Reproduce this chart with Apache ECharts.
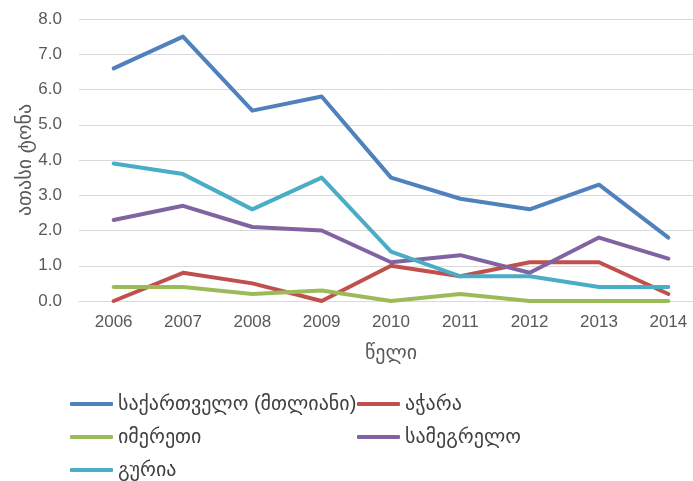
<!DOCTYPE html>
<html><head><meta charset="utf-8">
<script src="https://cdn.jsdelivr.net/npm/echarts@6/dist/echarts.min.js"></script>
<style>html,body{margin:0;padding:0;background:#fff}#c{width:693px;height:481px}</style>
</head><body><div id="c"></div>
<script>
const years = ['2006','2007','2008','2009','2010','2011','2012','2013','2014'];
const names = ['საქართველო (მთლიანი)','აჭარა','იმერეთი','სამეგრელო','გურია'];
const georgia = [6.6, 7.5, 5.4, 5.8, 3.5, 2.9, 2.6, 3.3, 1.8];
const adjara = [0.0, 0.8, 0.5, 0.0, 1.0, 0.7, 1.1, 1.1, 0.2];
const imereti = [0.4, 0.4, 0.2, 0.3, 0.0, 0.2, 0.0, 0.0, 0.0];
const samegrelo = [2.3, 2.7, 2.1, 2.0, 1.1, 1.3, 0.8, 1.8, 1.2];
const guria = [3.9, 3.6, 2.6, 3.5, 1.4, 0.7, 0.7, 0.4, 0.4];
const yTicks = ['0.0','1.0','2.0','3.0','4.0','5.0','6.0','7.0','8.0'];

const colors = ['#4F81BD','#C0504D','#9BBB59','#8064A2','#4BACC6'];
const values = [georgia, adjara, imereti, samegrelo, guria];
const FONT = '"Liberation Sans", Arial, "DejaVu Sans", sans-serif';

const chart = echarts.init(document.getElementById('c'));
const legendCommon = {
  orient: 'vertical', itemWidth: 43, itemHeight: 4, itemGap: 13, icon: 'roundRect',
  textStyle: {fontFamily: FONT, fontSize: 20, lineHeight: 20, color: '#404040'}, padding: 0
};
chart.setOption({
  animation: false,
  backgroundColor: '#fff',
  color: colors,
  grid: {left: 79, top: 19, right: -10, bottom: 180, outerBoundsMode: 'none', containLabel: false},
  legend: [
    Object.assign({}, legendCommon, {left: 70, top: 394, data: [names[0], names[2], names[4]]}),
    Object.assign({}, legendCommon, {left: 357, top: 394, data: [names[1], names[3]]})
  ],
  xAxis: {
    type: 'category', data: years, boundaryGap: true,
    name: 'წელი', nameLocation: 'middle', nameGap: 42,
    nameTextStyle: {fontFamily: FONT, fontSize: 20, color: '#595959'},
    axisLine: {lineStyle: {color: '#D9D9D9'}},
    axisTick: {show: false},
    axisLabel: {fontFamily: FONT, fontSize: 17, color: '#595959', margin: 13}
  },
  yAxis: {
    type: 'value', min: 0, max: 8, interval: 1,
    name: 'ათასი ტონა', nameLocation: 'middle', nameGap: 44, nameRotate: 90,
    nameMoveOverlap: false,
    nameTextStyle: {fontFamily: FONT, fontSize: 20, color: '#595959'},
    axisLine: {show: false}, axisTick: {show: false},
    splitLine: {lineStyle: {color: '#D9D9D9', width: 1}},
    axisLabel: {fontFamily: FONT, fontSize: 17, color: '#595959', margin: 17,
      formatter: v => yTicks[Math.round(v)]}
  },
  series: names.map((n, i) => ({
    name: n, type: 'line', data: values[i], symbol: 'none',
    lineStyle: {width: 4, color: colors[i], cap: 'round', join: 'round'},
    itemStyle: {color: colors[i]}
  }))
});
</script></body></html>
